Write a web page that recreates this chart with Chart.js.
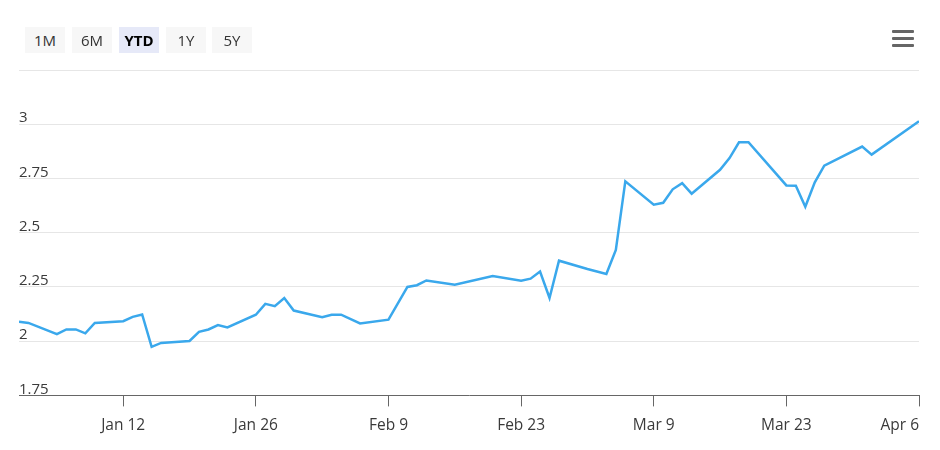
<!DOCTYPE html>
<html>
<head>
<meta charset="utf-8">
<script src="https://cdn.jsdelivr.net/npm/chart.js@4.4.1/dist/chart.umd.min.js"></script>
<style>
  html, body { margin: 0; padding: 0; background: #fff; }
  #wrap { position: relative; width: 940px; height: 450px; font-family: 'Open Sans', sans-serif; }
  .range { position: absolute; top: 27px; width: 40px; height: 26px; line-height: 26px; text-align: center;
    background: #f7f7f7; color: #333; font-size: 15px; }
  .range.on { background: #e6e9f8; color: #000; font-weight: bold; }
  .menu { position: absolute; left: 892px; width: 22px; height: 3px; background: #666; border-radius: 1px; }
</style>
</head>
<body>
<div id="wrap">
  <canvas id="yield_chart"></canvas>
  <div class="range" style="left:25px">1M</div>
  <div class="range" style="left:72px">6M</div>
  <div class="range on" style="left:119px">YTD</div>
  <div class="range" style="left:166px">1Y</div>
  <div class="range" style="left:212px">5Y</div>
  <div class="menu" style="top:30px"></div>
  <div class="menu" style="top:37px"></div>
  <div class="menu" style="top:44px"></div>
</div>
<script>
const startDate = '2026-01-01'
const endDate = '2026-04-06'

const dates = [
  '2026-01-01', '2026-01-02', '2026-01-05', '2026-01-06', '2026-01-07', '2026-01-08', '2026-01-09',
  '2026-01-12', '2026-01-13', '2026-01-14', '2026-01-15', '2026-01-16', '2026-01-19', '2026-01-20',
  '2026-01-21', '2026-01-22', '2026-01-23', '2026-01-26', '2026-01-27', '2026-01-28', '2026-01-29',
  '2026-01-30', '2026-02-02', '2026-02-03', '2026-02-04', '2026-02-06', '2026-02-09', '2026-02-11',
  '2026-02-12', '2026-02-13', '2026-02-16', '2026-02-20', '2026-02-23', '2026-02-24', '2026-02-25',
  '2026-02-26', '2026-02-27', '2026-03-02', '2026-03-04', '2026-03-05', '2026-03-06', '2026-03-09',
  '2026-03-10', '2026-03-11', '2026-03-12', '2026-03-13', '2026-03-16', '2026-03-17', '2026-03-18',
  '2026-03-19', '2026-03-23', '2026-03-24', '2026-03-25', '2026-03-26', '2026-03-27', '2026-03-31',
  '2026-04-01', '2026-04-06',
]

const yields = [
  2.089, 2.084, 2.032, 2.054, 2.054, 2.036, 2.084,
  2.092, 2.112, 2.123, 1.974, 1.992, 2.001, 2.043,
  2.054, 2.074, 2.063, 2.122, 2.172, 2.161, 2.199,
  2.141, 2.110, 2.122, 2.122, 2.082, 2.099, 2.250,
  2.258, 2.280, 2.260, 2.300, 2.279, 2.288, 2.321,
  2.199, 2.371, 2.333, 2.310, 2.421, 2.737, 2.629,
  2.638, 2.700, 2.728, 2.680, 2.790, 2.844, 2.917,
  2.917, 2.718, 2.717, 2.620, 2.732, 2.809, 2.897,
  2.860, 3.014,
]

// first entry is an unlabelled tick at the axis start, so that 'inner' align only moves it and Apr 6
const tickDates = ['2026-01-01', '2026-01-12', '2026-01-26', '2026-02-09', '2026-02-23', '2026-03-09', '2026-03-23', '2026-04-06']
const tickLabels = ['', 'Jan 12', 'Jan 26', 'Feb 9', 'Feb 23', 'Mar 9', 'Mar 23', 'Apr 6']

const yMin = 1.75
const yMax = 3.25
const yStep = 0.25

// days since Jan 1, so a plain linear axis can stand in for a time axis
const dayOf = (d) => (Date.parse(d) - Date.parse(startDate)) / 86400000

const points = dates.map((d, i) => ({ x: dayOf(d), y: yields[i] }))
const tickDays = tickDates.map(dayOf)

new Chart(document.getElementById('yield_chart').getContext('2d'), {
  type: 'line',
  data: {
    datasets: [
      {
        data: points,
        borderColor: '#3aa8ec',
        borderWidth: 2.5,
        pointRadius: 0,
        tension: 0,
        fill: false,
      },
    ],
  },
  options: {
    responsive: true,
    maintainAspectRatio: false,
    animation: false,
    layout: { padding: { left: 19, right: 21, top: 70, bottom: 5 } },
    plugins: {
      legend: { display: false },
      tooltip: { enabled: false },
    },
    scales: {
      x: {
        type: 'linear',
        min: dayOf(startDate),
        max: dayOf(endDate),
        afterBuildTicks: (axis) => {
          axis.ticks = tickDays.map((v) => ({ value: v }))
        },
        grid: {
          drawOnChartArea: false,
          tickColor: (ctx) => (ctx.tick && ctx.tick.value === tickDays[0] ? 'rgba(0,0,0,0)' : '#666'),
          tickLength: 11,
        },
        border: { color: '#666', width: 1 },
        ticks: {
          autoSkip: false,
          maxRotation: 0,
          align: 'inner',
          padding: 10,
          color: '#3a3a3a',
          font: { family: "'Open Sans', sans-serif", size: 15.5 },
          callback: (value) => tickLabels[tickDays.indexOf(value)],
        },
      },
      y: {
        min: yMin,
        max: yMax,
        grid: {
          color: '#e6e6e6',
          drawTicks: false,
        },
        border: { display: false },
        ticks: {
          stepSize: yStep,
          mirror: true,
          padding: 0,
          labelOffset: -6,
          color: '#3a3a3a',
          font: { family: "'Open Sans', sans-serif", size: 15 },
          callback: (value) => (value === yMax ? '' : value),
        },
      },
    },
  },
})
</script>
</body>
</html>
